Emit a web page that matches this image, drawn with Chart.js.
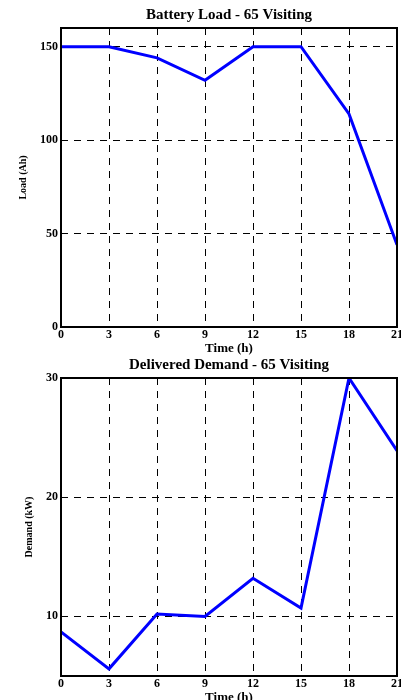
<!DOCTYPE html>
<html>
<head>
<meta charset="utf-8">
<script src="https://cdn.jsdelivr.net/npm/chart.js@4/dist/chart.umd.min.js"></script>
<style>
  html, body { margin: 0; padding: 0; background: #fff; overflow: hidden; width: 401px; height: 700px; }
  canvas { position: absolute; left: 0; }
  #c1 { top: 0; }
  #c2 { top: 354px; }
</style>
</head>
<body>
<canvas id="c1" width="420" height="356"></canvas>
<canvas id="c2" width="420" height="351"></canvas>
<script>
// hours of the day
const hours = [0, 3, 6, 9, 12, 15, 18, 21];
// battery load (Ah)
const loadValues = [150, 150, 144, 132, 150, 150, 114, 44];
// delivered demand (kW)
const demandValues = [8.7, 5.6, 10.2, 10.0, 13.2, 10.7, 30, 23.9];
const loadTicks = [0, 50, 100, 150];
const demandTicks = [10, 20, 30];

const serif = "'Liberation Serif', 'DejaVu Serif', serif";

// box round the plot area
const frame = {
    id: 'frame',
    afterDraw(chart) {
        const a = chart.chartArea;
        const ctx = chart.ctx;
        ctx.save();
        ctx.strokeStyle = '#000';
        ctx.lineWidth = 2;
        ctx.strokeRect(a.left, a.top, a.right - a.left, a.bottom - a.top);
        ctx.restore();
    }
};

function makeChart(id, title, yTitle, values, yMin, yMax, yTicks, pad) {
    const ctx = document.getElementById(id).getContext('2d');
    return new Chart(ctx, {
        type: 'line',
        data: {
            datasets: [{
                data: hours.map((h, i) => ({x: h, y: values[i]})),
                borderColor: 'rgb(0, 0, 255)',
                borderWidth: 3,
                pointRadius: 0,
                tension: 0,
                fill: false
            }]
        },
        options: {
            responsive: false,
            animation: false,
            layout: {padding: pad},
            scales: {
                x: {
                    type: 'linear',
                    min: 0,
                    max: 21,
                    afterBuildTicks: axis => { axis.ticks = hours.map(v => ({value: v})); },
                    grid: {color: '#000', lineWidth: 1, drawTicks: false},
                    border: {display: false, dash: [7, 6]},
                    ticks: {color: '#000', padding: 1, maxRotation: 0, font: {family: serif, size: 12, weight: 'bold'}},
                    title: {display: true, text: 'Time (h)', color: '#000', padding: {top: -3, bottom: 0}, font: {family: serif, size: 13, weight: 'bold'}}
                },
                y: {
                    min: yMin,
                    max: yMax,
                    afterBuildTicks: axis => { axis.ticks = yTicks.map(v => ({value: v})); },
                    grid: {color: '#000', lineWidth: 1, drawTicks: false},
                    border: {display: false, dash: [7, 6]},
                    ticks: {color: '#000', padding: 3, font: {family: serif, size: 12, weight: 'bold'}},
                    title: {display: true, text: yTitle, color: '#000', padding: {top: 0, bottom: 8}, font: {family: serif, size: 10, weight: 'bold'}}
                }
            },
            plugins: {
                legend: {display: false},
                tooltip: {enabled: false},
                title: {
                    display: true,
                    text: title,
                    color: '#000',
                    fullSize: false,
                    padding: {top: 0, bottom: 4},
                    font: {family: serif, size: 15, weight: 'bold'}
                }
            }
        },
        plugins: [frame]
    });
}

makeChart('c1', 'Battery Load - 65 Visiting', 'Load (Ah)', loadValues, 0, 160, loadTicks,
    {top: 6, left: 17, right: 23, bottom: 0});
makeChart('c2', 'Delivered Demand - 65 Visiting', 'Demand (kW)', demandValues, 5, 30, demandTicks,
    {top: 2, left: 23, right: 23, bottom: 0});
</script>
</body>
</html>
